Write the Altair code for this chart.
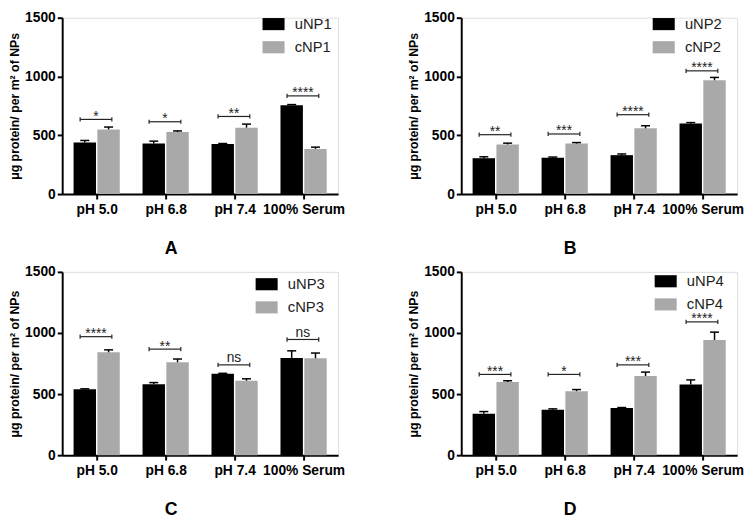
import altair as alt
import pandas as pd

conditions = ["pH 5.0", "pH 6.8", "pH 7.4", "100% Serum"]

# Panel A
uNP1_mean = [438, 430, 425, 755]
uNP1_err = [18, 20, 5, 6]
cNP1_mean = [550, 528, 565, 384]
cNP1_err = [20, 9, 30, 15]
sig1 = ["*", "*", "**", "****"]
br1 = [635, 615, 660, 835]

# Panel B
uNP2_mean = [305, 309, 331, 600]
uNP2_err = [12, 6, 10, 8]
cNP2_mean = [422, 430, 559, 968]
cNP2_err = [11, 8, 22, 24]
sig2 = ["**", "***", "****", "****"]
br2 = [505, 511, 675, 1048]

# Panel C
uNP3_mean = [540, 581, 667, 796]
uNP3_err = [3, 13, 3, 58]
cNP3_mean = [842, 761, 610, 793]
cNP3_err = [20, 26, 15, 43]
sig3 = ["****", "**", "ns", "ns"]
br3 = [970, 868, 739, 947]

# Panel D
uNP4_mean = [338, 371, 387, 578]
uNP4_err = [19, 8, 3, 38]
cNP4_mean = [599, 524, 648, 943]
cNP4_err = [10, 13, 32, 64]
sig4 = ["***", "*", "***", "****"]
br4 = [661, 661, 739, 1091]

BLACK = "#000000"
GREY = "#a9a9a9"
FONT = "Liberation Sans"


def make_panel(letter, uname, cname, um, ue, cm, ce, sig, br, legx, legy, h):
    bar_rows, err_rows, br_rows = [], [], []
    for i, cond in enumerate(conditions):
        c = i + 0.5
        for name, m, e, a, b in [(uname, um[i], ue[i], c - 0.335, c - 0.01),
                                 (cname, cm[i], ce[i], c + 0.01, c + 0.335)]:
            mid = (a + b) / 2
            bar_rows.append(dict(series=name, x0=a, x1=b, value=m))
            err_rows.append(dict(xc=mid, xl=mid - 0.065, xr=mid + 0.065,
                                 lo=m, hi=m + e))
        br_rows.append(dict(xl=c - 0.24, xr=c + 0.22, xm=c - 0.01, y=br[i],
                            ylo=br[i] - 18, yhi=br[i] + 18, label=sig[i]))
    bars_df = pd.DataFrame(bar_rows)
    err_df = pd.DataFrame(err_rows)
    br_df = pd.DataFrame(br_rows)

    label_list = "[" + ",".join("'%s'" % s for s in conditions) + "]"
    xscale = alt.Scale(domain=[0, 4], nice=False, zero=False)
    yscale = alt.Scale(domain=[0, 1500], nice=False)

    x_axis = alt.Axis(values=[0.5, 1.5, 2.5, 3.5],
                      labelExpr=label_list + "[floor(datum.value)]",
                      title=letter, grid=False, domainColor=BLACK,
                      domainWidth=2, tickColor=BLACK, tickWidth=2, tickSize=5,
                      labelFont=FONT, labelFontSize=14, labelFontWeight="bold",
                      labelColor=BLACK, labelPadding=4,
                      titleFont=FONT, titleFontSize=18, titleFontWeight="bold",
                      titleColor=BLACK, titleX=110, titleY=55,
                      titleBaseline="middle", titleAlign="center")
    y_axis = alt.Axis(values=[0, 500, 1000, 1500], format="d",
                      title="\u03bcg protein/ per m\u00b2 of NPs", grid=False,
                      domainColor=BLACK, domainWidth=2, tickColor=BLACK,
                      tickWidth=2, tickSize=5, labelFont=FONT,
                      labelFontSize=14, labelFontWeight="bold",
                      labelColor=BLACK, labelPadding=2, titleFont=FONT,
                      titleFontSize=12.5, titleFontWeight="bold",
                      titleColor=BLACK, titlePadding=3)

    bars = alt.Chart(bars_df).mark_rect().encode(
        x=alt.X("x0:Q", scale=xscale, axis=x_axis),
        x2="x1:Q",
        y=alt.Y("value:Q", scale=yscale, axis=y_axis),
        y2=alt.datum(0),
        color=alt.Color("series:N",
                        scale=alt.Scale(domain=[uname, cname],
                                        range=[BLACK, GREY]),
                        legend=alt.Legend(title=None, orient="none",
                                          legendX=legx, legendY=legy,
                                          symbolType="M-1,-0.55H1V0.55H-1Z",
                                          symbolSize=500, symbolStrokeWidth=0,
                                          labelFont=FONT, labelFontSize=15,
                                          labelColor="#222222",
                                          labelOffset=10, rowPadding=3.5)),
    )
    err_v = alt.Chart(err_df).mark_rule(color=BLACK, strokeWidth=1.5).encode(
        x="xc:Q", y="lo:Q", y2="hi:Q")
    err_cap = alt.Chart(err_df).mark_rule(color=BLACK, strokeWidth=1.5).encode(
        x="xl:Q", x2="xr:Q", y="hi:Q")
    br_h = alt.Chart(br_df).mark_rule(color="#222222", strokeWidth=1.2).encode(
        x="xl:Q", x2="xr:Q", y="y:Q")
    br_l = alt.Chart(br_df).mark_rule(color="#222222", strokeWidth=1.2).encode(
        x="xl:Q", y="ylo:Q", y2="yhi:Q")
    br_r = alt.Chart(br_df).mark_rule(color="#222222", strokeWidth=1.2).encode(
        x="xr:Q", y="ylo:Q", y2="yhi:Q")
    stars = alt.Chart(br_df).transform_filter(
        "datum.label != 'ns'"
    ).mark_text(font=FONT, fontSize=14, color="#222222",
                baseline="alphabetic", dy=1.5).encode(
        x="xm:Q", y="y:Q", text="label:N")
    ns = alt.Chart(br_df).transform_filter(
        "datum.label == 'ns'"
    ).mark_text(font=FONT, fontSize=14, color="#222222",
                baseline="alphabetic", dy=-3).encode(
        x="xm:Q", y="y:Q", text="label:N")
    return alt.layer(bars, err_v, err_cap, br_h, br_l, br_r, stars, ns).properties(
        width=280, height=h)


pA = make_panel("A", "uNP1", "cNP1", uNP1_mean, uNP1_err, cNP1_mean, cNP1_err, sig1, br1, 203, -5, 179)
pB = make_panel("B", "uNP2", "cNP2", uNP2_mean, uNP2_err, cNP2_mean, cNP2_err, sig2, br2, 194, -5, 179)
pC = make_panel("C", "uNP3", "cNP3", uNP3_mean, uNP3_err, cNP3_mean, cNP3_err, sig3, br3, 196, 1, 186)
pD = make_panel("D", "uNP4", "cNP4", uNP4_mean, uNP4_err, cNP4_mean, cNP4_err, sig4, br4, 196, -2, 186)

row1 = alt.hconcat(pA, pB, spacing=62).resolve_scale(color="independent")
row2 = alt.hconcat(pC, pD, spacing=62).resolve_scale(color="independent")
chart = alt.vconcat(row1, row2, spacing=6).resolve_scale(
    color="independent"
).properties(
    padding={"left": 0, "top": -2, "right": 0, "bottom": 0}
).configure_view(stroke=None).configure(background="white")

chart.save("out.html", embed_options={"renderer": "svg", "actions": False})
